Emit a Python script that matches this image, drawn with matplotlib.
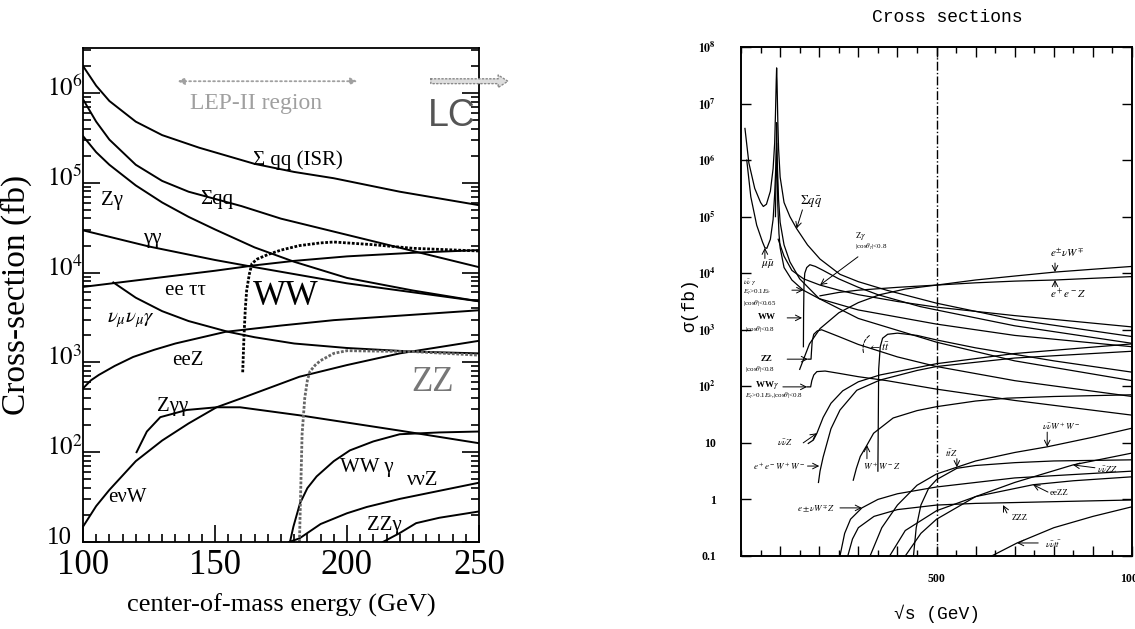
import numpy as np
import matplotlib.pyplot as plt
import matplotlib.transforms as mtransforms
from matplotlib.ticker import FixedLocator, FixedFormatter, MultipleLocator, NullFormatter, LogLocator

plt.rcParams['font.family'] = ['Liberation Serif', 'DejaVu Serif']
plt.rcParams['mathtext.fontset'] = 'stix'

###############################################################################
# left panel : energy (GeV) and log10(sigma / fb)
isr_E = [100, 105, 110, 120, 130, 144, 165, 180, 195, 220, 250]
isr_lg = [6.30, 6.08, 5.91, 5.68, 5.53, 5.39, 5.21, 5.12, 5.05, 4.90, 4.75]

sqq_E = [100, 105, 110, 120, 130, 140, 150, 160, 175, 200, 225, 250]
sqq_lg = [5.93, 5.68, 5.48, 5.20, 5.02, 4.90, 4.82, 4.74, 4.60, 4.42, 4.24, 4.06]

zg_E = [100, 105, 110, 120, 130, 140, 150, 165, 180, 200, 225, 250]
zg_lg = [5.52, 5.34, 5.20, 4.97, 4.78, 4.62, 4.48, 4.28, 4.12, 3.94, 3.80, 3.68]

gg_E = [100, 125, 150, 165, 200, 225, 250]
gg_lg = [4.47, 4.29, 4.14, 4.06, 3.88, 3.78, 3.68]

eett_E = [100, 125, 150, 165, 180, 200, 225, 250]
eett_lg = [3.84, 3.93, 4.02, 4.08, 4.13, 4.18, 4.22, 4.25]

nng_E = [111.5, 120, 130, 140, 150, 155, 165, 180, 200, 225, 250]
nng_lg = [3.89, 3.72, 3.57, 3.46, 3.38, 3.34, 3.28, 3.21, 3.16, 3.12, 3.10]

eez_E = [100, 103, 106, 112, 119, 127, 135, 154, 175, 195, 220, 250]
eez_lg = [2.71, 2.80, 2.86, 2.96, 3.06, 3.14, 3.21, 3.34, 3.41, 3.47, 3.52, 3.58]

enw_E = [100, 105, 110, 120, 130, 140, 150.6, 160, 182, 200, 220, 250]
enw_lg = [1.17, 1.40, 1.58, 1.90, 2.13, 2.32, 2.50, 2.60, 2.84, 2.97, 3.10, 3.24]

zgg_E = [120.3, 124.2, 129.3, 139.3, 150.6, 159.5, 182.2, 200, 220, 250]
zgg_lg = [2.00, 2.23, 2.39, 2.47, 2.50, 2.50, 2.41, 2.33, 2.24, 2.10]

wwg_E = [178.4, 179.7, 182.2, 185, 188.5, 195, 201.1, 210, 220, 235, 250]
wwg_lg = [1.00, 1.17, 1.43, 1.60, 1.73, 1.90, 2.02, 2.12, 2.20, 2.22, 2.23]

nnz_E = [178, 182, 190, 200, 207.5, 220, 235, 250]
nnz_lg = [1.00, 1.04, 1.20, 1.32, 1.39, 1.48, 1.57, 1.66]

zzg_E = [213.6, 220, 226.2, 235, 250]
zzg_lg = [1.00, 1.10, 1.21, 1.27, 1.34]

ww_E = [160.5, 161, 161.5, 162, 163, 164, 166, 170, 175, 182, 190, 195, 200, 210, 225, 250]
ww_lg = [2.89, 3.30, 3.60, 3.80, 3.98, 4.10, 4.15, 4.20, 4.25, 4.30, 4.33, 4.34, 4.33, 4.31, 4.27, 4.24]

zz_E = [182, 182.5, 183, 184, 185, 186, 188, 190, 195, 200, 225, 250]
zz_lg = [1.00, 1.60, 2.20, 2.60, 2.80, 2.90, 2.97, 3.02, 3.10, 3.13, 3.12, 3.08]

###############################################################################
# right panel : sqrt(s) (GeV) and log10(sigma / fb)
r_qq_E = [10, 20, 35, 50, 57, 65, 75, 82, 86, 88, 90, 91, 92, 94, 96, 100, 110, 125, 142, 170, 202, 253, 300, 372, 500, 700, 1000]
r_qq_lg = [6.56, 5.95, 5.50, 5.25, 5.18, 5.22, 5.45, 5.85, 6.30, 6.80, 7.40, 7.63, 7.40, 6.70, 6.20, 5.70, 5.25, 5.00, 4.79, 4.50, 4.25, 3.98, 3.85, 3.70, 3.47, 3.18, 2.88]

r_mm_E = [14.6, 25, 40, 55, 61, 66, 75, 82, 86, 89, 91, 93, 96, 100, 110, 125, 150, 200, 300, 500, 700, 1000]
r_mm_lg = [6.00, 5.35, 4.85, 4.55, 4.45, 4.44, 4.60, 4.95, 5.40, 5.90, 6.30, 5.90, 5.30, 4.90, 4.50, 4.20, 3.90, 3.55, 3.20, 2.78, 2.45, 2.10]

r_nng_E = [88, 90, 91, 92, 94, 97, 100, 110, 130, 159, 200, 300, 500, 700, 1000]
r_nng_lg = [5.00, 6.00, 6.66, 6.00, 5.20, 4.70, 4.45, 4.10, 3.88, 3.70, 3.55, 3.35, 3.10, 2.90, 2.70]

r_zg_E = [95, 100, 110, 130, 160, 202, 250, 300, 400, 500, 700, 1000]
r_zg_lg = [4.60, 4.50, 4.30, 4.05, 3.90, 3.79, 3.70, 3.62, 3.50, 3.40, 3.25, 3.05]

r_enw_E = [150, 175, 202, 250, 300, 355, 420, 500, 600, 700, 803, 900, 1000]
r_enw_lg = [2.30, 2.75, 3.02, 3.30, 3.48, 3.62, 3.72, 3.79, 3.88, 3.95, 4.02, 4.07, 4.12]

r_eez_E = [202, 250, 300, 400, 500, 600, 700, 803, 900, 1000]
r_eez_lg = [3.60, 3.66, 3.70, 3.75, 3.79, 3.83, 3.86, 3.88, 3.91, 3.94]

r_ww_E = [159.5, 160, 161, 163, 168, 176, 190, 210, 250, 300, 350, 458, 500, 700, 1000]
r_ww_lg = [2.70, 3.30, 3.80, 4.00, 4.10, 4.15, 4.12, 4.05, 3.90, 3.75, 3.62, 3.41, 3.35, 3.07, 2.76]

r_zz_E = [171, 179, 180, 182, 186, 195, 206, 250, 300, 400, 500, 700, 1000]
r_zz_lg = [2.48, 2.48, 2.60, 2.80, 2.92, 2.98, 3.00, 2.88, 2.74, 2.52, 2.35, 2.10, 1.82]

r_wwg_E = [169, 178, 181, 186, 194, 215, 250, 300, 373, 500, 700, 1000]
r_wwg_lg = [1.99, 1.99, 2.10, 2.20, 2.26, 2.27, 2.23, 2.17, 2.10, 1.95, 1.75, 1.49]

r_tt_E = [350, 352, 356, 362, 375, 400, 450, 500, 600, 800, 1000]
r_tt_lg = [0.50, 2.30, 2.70, 2.85, 2.92, 2.94, 2.90, 2.82, 2.68, 2.45, 2.25]

r_nnz_E = [172, 185, 194, 210, 230, 260, 300, 355, 450, 500, 700, 1000]
r_nnz_lg = [0.99, 1.05, 1.17, 1.45, 1.70, 1.92, 2.08, 2.20, 2.33, 2.40, 2.58, 2.75]

r_eeww_E = [198, 202, 210, 230, 253, 296, 355, 450, 500, 700, 1000]
r_eeww_lg = [0.30, 0.50, 0.75, 1.25, 1.58, 1.93, 2.11, 2.28, 2.35, 2.50, 2.62]

r_wwz_E = [287, 295, 305, 322, 339, 389, 450, 500, 600, 680, 800, 1000]
r_wwz_lg = [0.34, 0.55, 0.76, 0.96, 1.17, 1.44, 1.57, 1.64, 1.74, 1.79, 1.82, 1.85]

r_ttz_E = [441, 448, 460, 480, 500, 552, 600, 700, 800, 1000]
r_ttz_lg = [-1.0, -0.5, -0.1, 0.2, 0.35, 0.55, 0.60, 0.65, 0.68, 0.70]

r_nnww_E = [330, 360, 400, 450, 500, 600, 700, 783, 900, 1000]
r_nnww_lg = [-1.0, -0.5, -0.1, 0.25, 0.45, 0.68, 0.83, 0.93, 1.10, 1.26]

r_enwz_E = [253, 265, 280, 309, 350, 400, 500, 700, 1000]
r_enwz_lg = [-1.0, -0.6, -0.35, -0.15, 0.0, 0.10, 0.22, 0.38, 0.50]

r_zzz_E = [273, 285, 300, 340, 400, 500, 600, 670, 800, 1000]
r_zzz_lg = [-1.0, -0.7, -0.5, -0.3, -0.18, -0.10, -0.07, -0.06, -0.04, -0.01]

r_eezz_E = [380, 420, 500, 600, 747, 850, 1000]
r_eezz_lg = [-1.0, -0.55, -0.2, 0.05, 0.26, 0.33, 0.40]

r_nnzz_E = [420, 460, 500, 600, 700, 849, 1000]
r_nnzz_lg = [-1.0, -0.6, -0.35, 0.05, 0.30, 0.61, 0.82]

r_nntt_E = [641, 706, 800, 900, 1000]
r_nntt_lg = [-1.0, -0.77, -0.5, -0.3, -0.13]

###############################################################################
fig = plt.figure(figsize=(11.35, 6.29), dpi=100)

# ------------------------------------------------------------------ left
ax1 = fig.add_axes([0.0731, 0.1383, 0.3489, 0.7854])


def curve(ax, E, lg, **kw):
    ax.plot(E, 10 ** np.asarray(lg), **kw)


for E, lg in [(isr_E, isr_lg), (sqq_E, sqq_lg), (zg_E, zg_lg), (gg_E, gg_lg),
              (eett_E, eett_lg), (nng_E, nng_lg), (eez_E, eez_lg), (enw_E, enw_lg),
              (zgg_E, zgg_lg), (wwg_E, wwg_lg), (nnz_E, nnz_lg), (zzg_E, zzg_lg)]:
    curve(ax1, E, lg, color='k', lw=1.4)
curve(ax1, ww_E, ww_lg, color='k', lw=2.0, ls=(0, (1, 0.6)))
curve(ax1, zz_E, zz_lg, color='#666666', lw=2.0, ls=(0, (1, 0.6)))

ax1.set_yscale('log')
ax1.set_xlim(100, 250)
ax1.set_ylim(10, 10 ** 6.5)
ax1.yaxis.set_major_locator(FixedLocator([1e1, 1e2, 1e3, 1e4, 1e5, 1e6]))
ax1.yaxis.set_major_formatter(FixedFormatter(['10', '$10^2$', '$10^3$', '$10^4$', '$10^5$', '$10^6$']))
ax1.yaxis.set_minor_locator(LogLocator(base=10, subs=np.arange(2, 10)))
ax1.yaxis.set_minor_formatter(NullFormatter())
ax1.xaxis.set_major_locator(MultipleLocator(50))
ax1.xaxis.set_minor_locator(MultipleLocator(5))
ax1.tick_params(which='both', direction='in', right=True, top=False, width=1.2)
ax1.tick_params(which='major', length=12)
ax1.tick_params(which='minor', length=6)
ax1.tick_params(axis='x', labelsize=25, pad=5)
ax1.tick_params(axis='y', labelsize=18, pad=26)
lift = mtransforms.ScaledTranslation(0, 5 / 72, fig.dpi_scale_trans)
for lab in ax1.get_yticklabels():
    lab.set_horizontalalignment('left')
    lab.set_transform(lab.get_transform() + lift)
for s in ax1.spines.values():
    s.set_linewidth(1.3)

ax1.set_xlabel('center-of-mass energy (GeV)', fontsize=19)
ax1.xaxis.set_label_coords(0.5, -0.105)
ax1.set_ylabel('Cross-section (fb)', fontsize=24)
ax1.yaxis.set_label_coords(-0.128, 0.5)

lab = dict(fontsize=15, va='center', ha='left')
ax1.text(164.4, 10 ** 5.25, 'Σ qq (ISR)', **lab)
ax1.text(144.3, 10 ** 4.81, 'Σqq', **lab)
ax1.text(107, 10 ** 4.80, 'Zγ', **lab)
ax1.text(122.8, 10 ** 4.38, 'γγ', **lab)
ax1.text(131, 10 ** 3.80, 'ee ττ', **lab)
ax1.text(109, 10 ** 3.47, r'$\nu_\mu\nu_\mu\gamma$', **lab)
ax1.text(133.6, 10 ** 3.02, 'eeZ', **lab)
ax1.text(128, 10 ** 2.51, 'Zγγ', **lab)
ax1.text(197.3, 10 ** 1.83, 'WW γ', **lab)
ax1.text(222.7, 10 ** 1.68, 'ννZ', **lab)
ax1.text(207.6, 10 ** 1.18, 'ZZγ', **lab)
ax1.text(109.5, 10 ** 1.50, 'eνW', **lab)
ax1.text(164.4, 10 ** 3.73, 'WW', fontsize=25, va='center', ha='left')
ax1.text(224.5, 10 ** 2.78, 'ZZ', fontsize=25, va='center', ha='left', color='#777777')
ax1.text(140.5, 10 ** 5.88, 'LEP-II region', fontsize=17, va='center', ha='left', color='#a0a0a0')
ax1.text(230.5, 10 ** 5.74, 'LC', fontsize=27, va='center', ha='left', color='#555555',
         family=['Liberation Sans', 'DejaVu Sans'])
ax1.annotate('', xy=(205, 10 ** 6.13), xytext=(134.8, 10 ** 6.13),
             arrowprops=dict(arrowstyle='<|-|>', ls=':', lw=1.3, color='#a0a0a0'))
ax1.annotate('', xy=(262, 10 ** 6.13), xytext=(230.7, 10 ** 6.13), annotation_clip=False,
             arrowprops=dict(arrowstyle='simple,head_width=0.9,head_length=0.7,tail_width=0.35',
                             fc='#dddddd', ec='#888888', ls=':', lw=1))

# ------------------------------------------------------------------ right
ax2 = fig.add_axes([0.6529, 0.1161, 0.3445, 0.8092])

for E, lg in [(r_qq_E, r_qq_lg), (r_mm_E, r_mm_lg), (r_nng_E, r_nng_lg), (r_zg_E, r_zg_lg),
              (r_enw_E, r_enw_lg), (r_eez_E, r_eez_lg), (r_ww_E, r_ww_lg), (r_zz_E, r_zz_lg),
              (r_wwg_E, r_wwg_lg), (r_tt_E, r_tt_lg), (r_nnz_E, r_nnz_lg), (r_eeww_E, r_eeww_lg),
              (r_wwz_E, r_wwz_lg), (r_ttz_E, r_ttz_lg), (r_nnww_E, r_nnww_lg), (r_enwz_E, r_enwz_lg),
              (r_zzz_E, r_zzz_lg), (r_eezz_E, r_eezz_lg), (r_nnzz_E, r_nnzz_lg), (r_nntt_E, r_nntt_lg)]:
    curve(ax2, E, lg, color='k', lw=0.9)
ax2.axvline(500, color='k', lw=1.0, ls='-.')

ax2.set_yscale('log')
ax2.set_xlim(0, 1000)
ax2.set_ylim(0.1, 1e8)
ax2.yaxis.set_major_locator(FixedLocator([0.1, 1, 10, 1e2, 1e3, 1e4, 1e5, 1e6, 1e7, 1e8]))
ax2.yaxis.set_major_formatter(FixedFormatter(
    ['0.1', '1', '10', r'$\mathbf{10^2}$', r'$\mathbf{10^3}$', r'$\mathbf{10^4}$', r'$\mathbf{10^5}$',
     r'$\mathbf{10^6}$', r'$\mathbf{10^7}$', r'$\mathbf{10^8}$']))
ax2.yaxis.set_minor_locator(FixedLocator([]))
ax2.xaxis.set_major_locator(FixedLocator([100, 200, 300, 400, 500, 600, 700, 800, 900, 1000]))
ax2.xaxis.set_major_formatter(FixedFormatter(['', '', '', '', '500', '', '', '', '', '1000']))
ax2.xaxis.set_minor_locator(MultipleLocator(50))
ax2.tick_params(which='both', direction='in', top=True, right=True, width=1.0)
ax2.tick_params(which='major', length=7, labelsize=8.5, pad=12)
ax2.tick_params(which='minor', length=4)
ax2.tick_params(axis='y', pad=18)
for lab2 in ax2.get_xticklabels() + ax2.get_yticklabels():
    lab2.set_fontweight('bold')
for s in ax2.spines.values():
    s.set_linewidth(1.4)

mono = ['Liberation Mono', 'DejaVu Sans Mono']
fig.text(947 / 1135, 1 - 17 / 629, 'Cross sections', family=mono, fontsize=13, ha='center', va='center')
fig.text(937 / 1135, 1 - 614 / 629, '√s (GeV)', family=mono, fontsize=13, ha='center', va='center')
fig.text(690 / 1135, 1 - 305 / 629, 'σ(fb)', family=mono, fontsize=13, ha='center', va='center',
         rotation=90)

sm = dict(fontsize=6.5, va='center', ha='left')
tiny = dict(fontsize=5, va='center', ha='left')
arr = dict(arrowstyle='->', lw=0.7, color='k', shrinkA=0, shrinkB=0)


def pointer(tail, tip):
    ax2.annotate('', xy=(tip[0], 10 ** tip[1]), xytext=(tail[0], 10 ** tail[1]), arrowprops=arr)


ax2.text(151, 10 ** 5.28, r'$\Sigma q\bar{q}$', fontsize=9, va='center', ha='left')
pointer((157, 5.12), (142, 4.79))
ax2.text(69, 10 ** 4.16, r'$\mu\bar{\mu}$', fontsize=8, va='center', ha='center')
pointer((61, 4.26), (61, 4.45))
ax2.text(5, 10 ** 3.82, r'$\nu\bar{\nu}\ \gamma$', **tiny)
ax2.text(5, 10 ** 3.65, r'$E_\gamma$>0.1$E_b$', **tiny)
ax2.text(5, 10 ** 3.47, r'|cos$\theta$|<0.65', **tiny)
pointer((130, 3.70), (159, 3.70))
ax2.text(66, 10 ** 3.23, 'WW', fontsize=6.5, va='center', ha='center', fontweight='bold')
ax2.text(10, 10 ** 3.02, r'|cos$\theta$|<0.8', **tiny)
pointer((118, 3.21), (156, 3.21))
ax2.text(66, 10 ** 2.49, 'ZZ', fontsize=6.5, va='center', ha='center', fontweight='bold')
ax2.text(10, 10 ** 2.30, r'|cos$\theta$|<0.8', **tiny)
pointer((118, 2.48), (171, 2.48))
ax2.text(66, 10 ** 2.02, r'WW$\gamma$', fontsize=6.5, va='center', ha='center', fontweight='bold')
ax2.text(10, 10 ** 1.83, r'$E_\gamma$>0.1$E_b$,|cos$\theta$|<0.8', **tiny)
pointer((107, 1.99), (169, 1.99))
ax2.text(292, 10 ** 4.66, r'Z$\gamma$', **sm)
ax2.text(292, 10 ** 4.46, r'|cos$\theta_\gamma$|<0.8', **tiny)
pointer((299, 4.29), (202, 3.79))
ax2.text(790, 10 ** 4.36, r'$e^{\pm}\nu W^{\mp}$', fontsize=8, va='center', ha='left')
pointer((803, 4.18), (803, 4.02))
ax2.text(790, 10 ** 3.63, r'$e^+e^-Z$', fontsize=8, va='center', ha='left')
pointer((803, 3.76), (803, 3.88))
ax2.text(325, 10 ** 2.71, r'$\leftarrow t\bar{t}$', fontsize=8, va='center', ha='left')
ax2.annotate('', xy=(335, 10 ** 2.93), xytext=(315, 10 ** 2.55),
             arrowprops=dict(arrowstyle='-', lw=0.7, ls='--', connectionstyle='arc3,rad=-0.4'))
ax2.text(92, 10 ** 1.00, r'$\nu\bar{\nu}Z$', **sm)
pointer((159, 1.00), (194, 1.17))
ax2.text(31, 10 ** 0.59, r'$e^+e^-W^+W^-$', **sm)
pointer((170, 0.59), (200, 0.59))
ax2.text(312, 10 ** 0.59, r'$W^+W^-Z$', **sm)
pointer((322, 0.72), (322, 0.96))
ax2.text(522, 10 ** 0.82, r'$t\bar{t}Z$', **sm)
pointer((552, 0.72), (552, 0.57))
ax2.text(770, 10 ** 1.30, r'$\nu\bar{\nu}W^+W^-$', **sm)
pointer((783, 1.19), (783, 0.93))
ax2.text(910, 10 ** 0.52, r'$\nu\bar{\nu}ZZ$', **sm)
pointer((905, 0.56), (849, 0.61))
ax2.text(790, 10 ** 0.11, 'eeZZ', **sm)
pointer((785, 0.13), (747, 0.26))
ax2.text(693, 10 ** -0.33, 'ZZZ', **sm)
pointer((680, -0.24), (670, -0.10))
ax2.text(143, 10 ** -0.17, r'$e\pm\nu W^{\mp}Z$', **sm)
pointer((253, -0.15), (309, -0.15))
ax2.text(777, 10 ** -0.79, r'$\nu\bar{\nu}t\bar{t}$', **sm)
pointer((760, -0.77), (706, -0.77))

plt.savefig('out.png', dpi=100)
